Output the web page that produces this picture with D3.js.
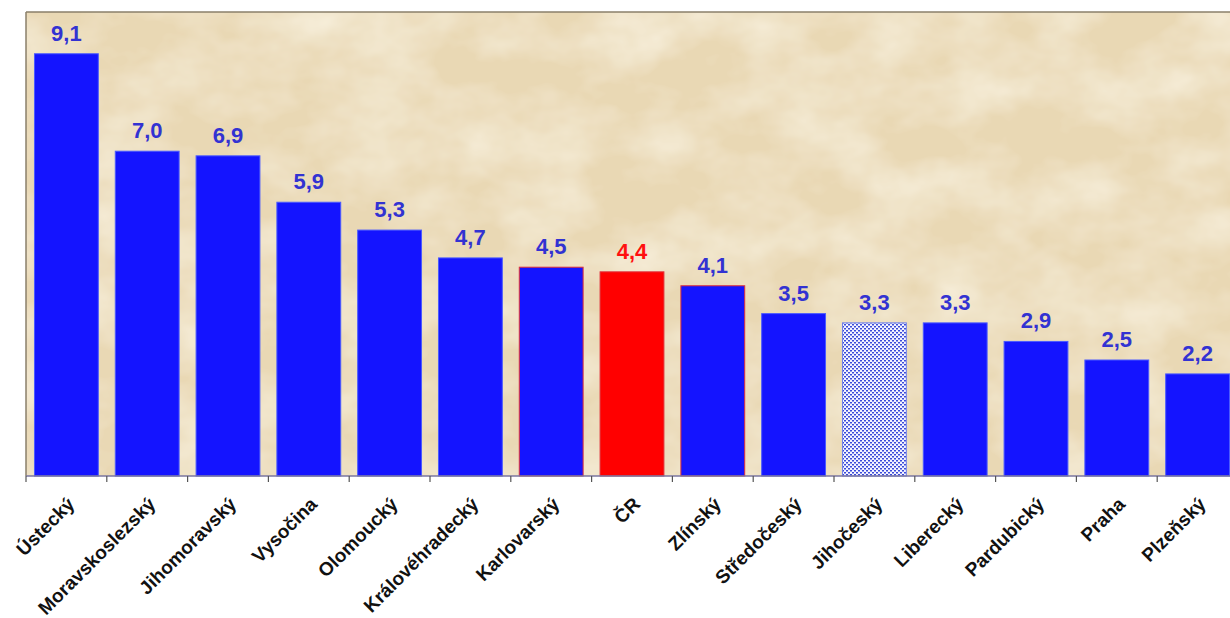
<!DOCTYPE html>
<html>
<head>
<meta charset="utf-8">
<script src="https://cdn.jsdelivr.net/npm/d3@7"></script>
<style>
  body { margin: 0; background: #fff; }
  svg { display: block; }
  .value { font-family: "Liberation Sans", Arial, sans-serif; font-weight: bold; font-size: 22px; }
  .cat { font-family: "Liberation Sans", Arial, sans-serif; font-weight: bold; font-size: 19px; fill: #111; }
</style>
</head>
<body>
<svg id="chart"></svg>
<script>
var regions = ["Ústecký", "Moravskoslezský", "Jihomoravský", "Vysočina", "Olomoucký", "Královéhradecký",
  "Karlovarský", "ČR", "Zlínský", "Středočeský", "Jihočeský", "Liberecký", "Pardubický", "Praha", "Plzeňský"];
var values = [9.1, 7.0, 6.9, 5.9, 5.3, 4.7, 4.5, 4.4, 4.1, 3.5, 3.3, 3.3, 2.9, 2.5, 2.2];

var width = 1230, height = 618;
var plotLeft = 26, plotTop = 12, plotBottom = 476, plotRight = 1238;

var svg = d3.select("#chart")
  .attr("width", width)
  .attr("height", height);

var defs = svg.append("defs");

// parchment texture
var filt = defs.append("filter").attr("id", "paper")
  .attr("x", 0).attr("y", 0).attr("width", "100%").attr("height", "100%");
filt.append("feTurbulence")
  .attr("type", "fractalNoise").attr("baseFrequency", "0.012 0.018")
  .attr("numOctaves", 4).attr("seed", 7).attr("result", "noise");
filt.append("feColorMatrix").attr("in", "noise").attr("type", "matrix")
  .attr("values", "0 0 0 0 0.93  0 0 0 0 0.86  0 0 0 0 0.71  0 0 0 -1.6 1.05")
  .attr("result", "tint");
filt.append("feComposite").attr("in", "tint").attr("in2", "SourceGraphic").attr("operator", "over");

// dotted pattern for Jihočeský
var pat = defs.append("pattern").attr("id", "dots")
  .attr("patternUnits", "userSpaceOnUse").attr("width", 4).attr("height", 4);
pat.append("rect").attr("width", 4).attr("height", 4).attr("fill", "#f4f4ff");
pat.append("rect").attr("x", 0).attr("y", 0).attr("width", 2).attr("height", 1.5).attr("fill", "#3a4ad8");
pat.append("rect").attr("x", 2).attr("y", 2).attr("width", 2).attr("height", 1.5).attr("fill", "#3a4ad8");

var x = d3.scaleBand()
  .domain(regions)
  .range([plotLeft, plotRight])
  .paddingInner(0.21)
  .paddingOuter(0.105);

var y = d3.scaleLinear().domain([0, 10]).range([plotBottom, plotTop]);

// plot background
svg.append("rect")
  .attr("x", plotLeft).attr("y", plotTop)
  .attr("width", plotRight - plotLeft).attr("height", plotBottom - plotTop)
  .attr("fill", "#e9d8b4")
  .attr("filter", "url(#paper)");

svg.append("line")
  .attr("x1", plotLeft).attr("x2", plotRight).attr("y1", plotTop).attr("y2", plotTop)
  .attr("stroke", "#8a7f6a").attr("stroke-width", 1.5);
svg.append("line")
  .attr("x1", plotLeft).attr("x2", plotLeft).attr("y1", plotTop).attr("y2", plotBottom)
  .attr("stroke", "#8a7f6a").attr("stroke-width", 1.5);

function barFill(d) {
  if (d === "ČR") return "#ff0000";
  if (d === "Jihočeský") return "url(#dots)";
  return "#1414ff";
}
function barStroke(d) {
  if (d === "Karlovarský" || d === "Zlínský" || d === "ČR") return "#e0303a";
  if (d === "Jihočeský") return "#7080e8";
  return "#4a5aff";
}

svg.selectAll(".bar")
  .data(regions)
  .enter().append("rect")
  .attr("class", "bar")
  .attr("x", function(d) { return x(d); })
  .attr("y", function(d, i) { return y(values[i]); })
  .attr("width", x.bandwidth())
  .attr("height", function(d, i) { return plotBottom - y(values[i]); })
  .attr("fill", barFill)
  .attr("stroke", barStroke)
  .attr("stroke-width", 1);

svg.selectAll(".value")
  .data(regions)
  .enter().append("text")
  .attr("class", "value")
  .attr("x", function(d) { return x(d) + x.bandwidth() / 2; })
  .attr("y", function(d, i) { return y(values[i]) - 13; })
  .attr("text-anchor", "middle")
  .attr("fill", function(d) { return d === "ČR" ? "#ff1010" : "#3232d2"; })
  .text(function(d, i) { return d3.format(".1f")(values[i]).replace(".", ","); });

// x axis
svg.append("line")
  .attr("x1", plotLeft).attr("x2", plotRight).attr("y1", plotBottom).attr("y2", plotBottom)
  .attr("stroke", "#7a76a0").attr("stroke-width", 1.5);

var step = x.step();
var tickPos = regions.map(function(d) { return x(d) - step * x.paddingInner() / 2; });
tickPos.push(plotRight);
svg.selectAll(".tick")
  .data(tickPos)
  .enter().append("line")
  .attr("class", "tick")
  .attr("x1", function(d) { return d; }).attr("x2", function(d) { return d; })
  .attr("y1", plotBottom).attr("y2", plotBottom + 6)
  .attr("stroke", "#555").attr("stroke-width", 1.2);

svg.selectAll(".cat")
  .data(regions)
  .enter().append("text")
  .attr("class", "cat")
  .attr("transform", function(d) {
    return "translate(" + (x(d) + x.bandwidth() / 2) + "," + 496 + ") rotate(-45)";
  })
  .attr("text-anchor", "end")
  .attr("dy", "0.7em")
  .text(function(d) { return d; });
</script>
</body>
</html>
